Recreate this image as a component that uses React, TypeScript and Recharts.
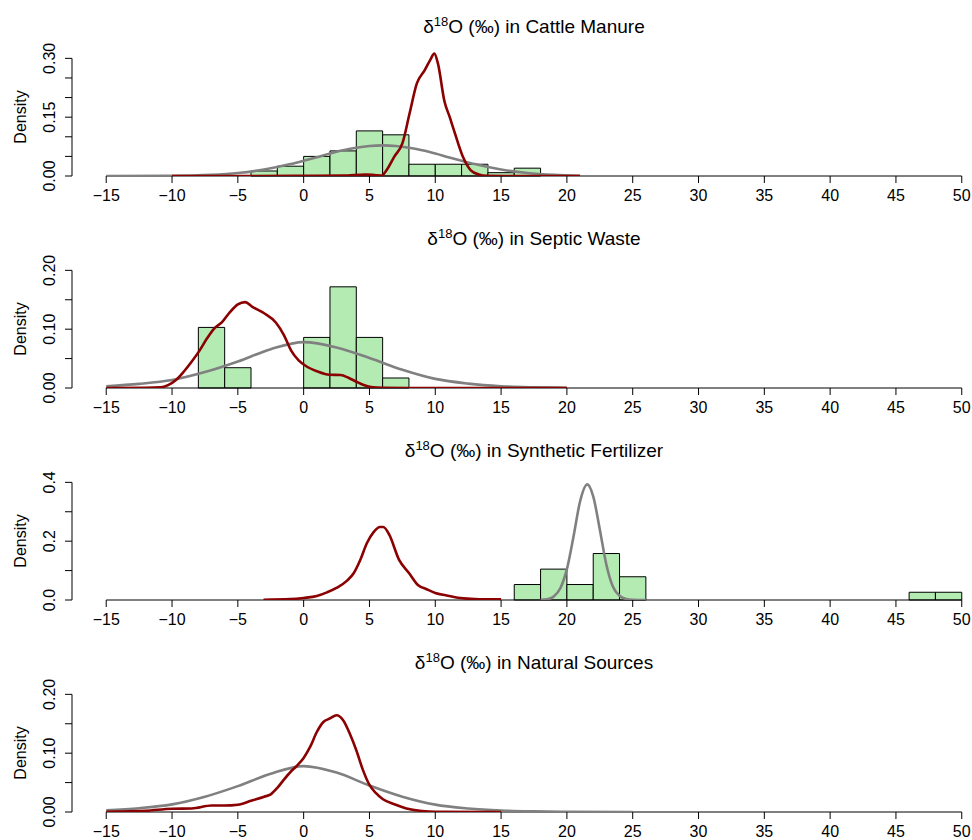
import React from 'react';
import { ComposedChart, XAxis, YAxis, Line, ReferenceArea, ReferenceLine } from 'recharts';

// ---------- data ----------
const X_TICKS = [-15, -10, -5, 0, 5, 10, 15, 20, 25, 30, 35, 40, 45, 50];

// Cattle manure
const cattleTitle = 'in Cattle Manure';
const cattleBins = [
  [-4, -2, 0.0128], [-2, 0, 0.025], [0, 2, 0.05], [2, 4, 0.064], [4, 6, 0.115], [6, 8, 0.105],
  [8, 10, 0.03], [10, 12, 0.03], [12, 14, 0.03], [14, 16, 0.0085], [16, 18, 0.02],
];
const cattleKde = [
  [-10, 0], [-5, 0], [0, 0.0005], [3, 0.001], [4.7, 0.004], [5.5, 0.002], [5.9, 0.001], [6.3, 0.015],
  [6.9, 0.05], [7.5, 0.083], [8.05, 0.16], [8.6, 0.236], [9.2, 0.27], [9.6, 0.295], [9.93, 0.312],
  [10.2, 0.287], [10.7, 0.19], [11.1, 0.15], [11.5, 0.108], [12.1, 0.049], [12.7, 0.0145], [13.3, 0.004],
  [13.9, 0.0005], [16, 0], [21, 0],
];
const cattleNorm = [
  [-15, 0.0001], [-10, 0.0006], [-7, 0.003], [-5, 0.0076], [-3, 0.0164], [-1, 0.0304], [0, 0.039],
  [1, 0.048], [2, 0.0573], [3, 0.0656], [4, 0.0722], [5, 0.0765], [6, 0.078], [7, 0.0765], [8, 0.0722],
  [9, 0.0656], [10, 0.0573], [11, 0.048], [12, 0.039], [13, 0.0304], [15, 0.0164], [17, 0.0076],
  [19, 0.0028], [21, 0.0006],
];
const cattleYTicks = [0, 0.05, 0.1, 0.15, 0.2, 0.25, 0.3];
const cattleYLabels = ['0.00', '', '', '0.15', '', '', '0.30'];

// Septic waste
const septicTitle = 'in Septic Waste';
const septicBins = [
  [-8, -6, 0.103], [-6, -4, 0.0345], [0, 2, 0.086], [2, 4, 0.172], [4, 6, 0.086], [6, 8, 0.017],
];
const septicKde = [
  [-15, 0], [-12, 0.0003], [-10.85, 0.001], [-10.3, 0.005], [-9.7, 0.0136], [-9.1, 0.028], [-8.5, 0.045],
  [-7.9, 0.064], [-7.35, 0.084], [-6.8, 0.101], [-6.2, 0.112], [-5.6, 0.129], [-5.0, 0.142], [-4.45, 0.146],
  [-3.9, 0.138], [-3.0, 0.127], [-2.1, 0.111], [-1.5, 0.09], [-0.96, 0.064], [-0.38, 0.047], [0.2, 0.037],
  [1.08, 0.028], [1.95, 0.0226], [2.8, 0.022], [3.4, 0.0175], [4.0, 0.0107], [4.56, 0.005], [5.1, 0.0017],
  [6, 0.0003], [8, 0], [20, 0],
];
const septicNorm = [
  [-15, 0.003], [-12.5, 0.007], [-10, 0.0136], [-7.5, 0.027], [-5, 0.045], [-2.5, 0.066], [0, 0.078],
  [2.5, 0.069], [5, 0.051], [7.5, 0.031], [10, 0.0155], [12.5, 0.0075], [15, 0.003], [17.5, 0.0012],
  [20, 0.0004],
];
const septicYTicks = [0, 0.05, 0.1, 0.15, 0.2];
const septicYLabels = ['0.00', '', '0.10', '', '0.20'];

// Synthetic fertilizer
const fertTitle = 'in Synthetic Fertilizer';
const fertBins = [
  [16, 18, 0.0526], [18, 20, 0.105], [20, 22, 0.0526], [22, 24, 0.158], [24, 26, 0.079],
  [46, 48, 0.0263], [48, 50, 0.0263],
];
const fertKde = [
  [-3.05, 0.001], [-1, 0.003], [0, 0.007], [1, 0.0136], [1.77, 0.026], [2.53, 0.042], [3.3, 0.066],
  [3.8, 0.091], [4.3, 0.136], [4.8, 0.193], [5.3, 0.23], [5.8, 0.248], [6.05, 0.248], [6.5, 0.222],
  [7.24, 0.1375], [8.0, 0.092], [8.73, 0.049], [9.3, 0.0375], [10.0, 0.024], [10.8, 0.016], [11.9, 0.0068],
  [13.0, 0.0034], [15.0, 0.002],
];
const fertNorm = [
  [18, 0.0005], [18.5, 0.0025], [19, 0.012], [19.5, 0.04], [20, 0.105], [20.5, 0.215], [21, 0.335],
  [21.55, 0.393], [22, 0.352], [22.5, 0.24], [23, 0.12], [23.5, 0.045], [24, 0.0145], [24.5, 0.0035],
  [25, 0.0008], [26, 0],
];
const fertYTicks = [0, 0.1, 0.2, 0.3, 0.4];
const fertYLabels = ['0.0', '', '0.2', '', '0.4'];

// Natural sources
const naturalTitle = 'in Natural Sources';
const naturalBins: number[][] = [];
const naturalKde = [
  [-15, 0.0003], [-12, 0.002], [-10, 0.0056], [-8.5, 0.006], [-7, 0.011], [-6, 0.011], [-5, 0.0124],
  [-4, 0.019], [-3, 0.026], [-2.5, 0.03], [-2, 0.041], [-1.5, 0.055], [-1, 0.068], [-0.5, 0.079],
  [0, 0.092], [0.5, 0.111], [1, 0.136], [1.5, 0.153], [2, 0.159], [2.5, 0.1645], [3, 0.156],
  [3.5, 0.1335], [4, 0.105], [4.5, 0.0716], [5, 0.046], [5.5, 0.032], [6, 0.022], [7, 0.0124],
  [8, 0.005], [9, 0.0017], [10, 0.0005], [15, 0],
];
const naturalNorm = [
  [-15, 0.003], [-12.5, 0.0065], [-10, 0.013], [-7.5, 0.026], [-5, 0.044], [-2.5, 0.065], [0, 0.078],
  [2.5, 0.067], [5, 0.045], [7.5, 0.026], [10, 0.0125], [12.5, 0.006], [15, 0.0025], [17.5, 0.001],
  [20, 0.0003], [25, 0],
];
const naturalYTicks = [0, 0.05, 0.1, 0.15, 0.2];
const naturalYLabels = ['0.00', '', '0.10', '', '0.20'];

// ---------- styling / layout ----------
const FONT = '"Liberation Sans", Arial, Helvetica, sans-serif';
const W = 972;
const PANEL_H = 212;
const MARGIN = { top: 50, right: 3, bottom: 6, left: 0 };
const PLOT_H = 126;
const TOP_TICK_PX = 117.65;
const X_DOMAIN: [number, number] = [-17.6, 50.55];
const GREEN = '#b3ebb3';
const RED = '#8b0000';
const GRAY = '#808080';
const AXIS_FS = 16;

const toPts = (arr: number[][]) => arr.map(([x, y]) => ({ x, y }));
const fmtX = (v: number) => (v < 0 ? '\u2212' + Math.abs(v) : String(v));

const XTick = (p: any) => {
  const { x, y, payload } = p;
  return (
    <text x={x} y={y + 16} textAnchor="middle" fontSize={AXIS_FS} fontFamily={FONT} fill="#000">
      {fmtX(payload.value)}
    </text>
  );
};

const makeYTick = (ticks: number[], labels: string[]) => (p: any) => {
  const { y, payload } = p;
  const i = ticks.findIndex((t) => Math.abs(t - payload.value) < 1e-9);
  const lab = i >= 0 ? labels[i] : '';
  if (!lab) return <g />;
  return (
    <text transform={`translate(55, ${y}) rotate(-90)`} textAnchor="middle" fontSize={AXIS_FS} fontFamily={FONT} fill="#000">
      {lab}
    </text>
  );
};

type PanelProps = {
  top: number;
  bins: number[][];
  kde: number[][];
  norm: number[][];
  yTicks: number[];
  yLabels: string[];
};

function Panel({ top, bins, kde, norm, yTicks, yLabels }: PanelProps) {
  const yTop = yTicks[yTicks.length - 1];
  const yMax = (yTop * PLOT_H) / TOP_TICK_PX;
  return (
    <div style={{ position: 'absolute', left: 0, top, width: W, height: PANEL_H }}>
      <ComposedChart width={W} height={PANEL_H} margin={MARGIN}>
        <XAxis
          type="number"
          dataKey="x"
          domain={X_DOMAIN}
          ticks={X_TICKS}
          interval={0}
          allowDataOverflow
          axisLine={false}
          tickLine={{ stroke: '#000', strokeWidth: 1 }}
          tickSize={7}
          height={30}
          tick={<XTick />}
        />
        <YAxis
          type="number"
          domain={[0, yMax]}
          ticks={yTicks}
          interval={0}
          allowDataOverflow
          axisLine={false}
          tickLine={{ stroke: '#000', strokeWidth: 1 }}
          tickSize={7}
          width={72}
          tick={makeYTick(yTicks, yLabels)}
        />
        {bins.map(([x1, x2, d], i) => (
          <ReferenceArea
            key={'b' + i}
            x1={x1}
            x2={x2}
            y1={0}
            y2={d}
            fill={GREEN}
            fillOpacity={1}
            stroke="#000"
            strokeWidth={1}
            ifOverflow="visible"
          />
        ))}
        <ReferenceLine
          segment={[{ x: X_TICKS[0], y: 0 }, { x: X_TICKS[X_TICKS.length - 1], y: 0 }]}
          stroke="#000"
          strokeWidth={1}
          ifOverflow="visible"
        />
        <ReferenceLine
          segment={[{ x: X_DOMAIN[0], y: 0 }, { x: X_DOMAIN[0], y: yTop }]}
          stroke="#000"
          strokeWidth={1}
          ifOverflow="visible"
        />
        <Line
          data={toPts(norm)}
          dataKey="y"
          type="monotone"
          stroke={GRAY}
          strokeWidth={2.6}
          dot={false}
          activeDot={false}
          isAnimationActive={false}
        />
        <Line
          data={toPts(kde)}
          dataKey="y"
          type="monotone"
          stroke={RED}
          strokeWidth={2.6}
          dot={false}
          activeDot={false}
          isAnimationActive={false}
        />
      </ComposedChart>
    </div>
  );
}

const panels = [
  { title: cattleTitle, bins: cattleBins, kde: cattleKde, norm: cattleNorm, yTicks: cattleYTicks, yLabels: cattleYLabels },
  { title: septicTitle, bins: septicBins, kde: septicKde, norm: septicNorm, yTicks: septicYTicks, yLabels: septicYLabels },
  { title: fertTitle, bins: fertBins, kde: fertKde, norm: fertNorm, yTicks: fertYTicks, yLabels: fertYLabels },
  { title: naturalTitle, bins: naturalBins, kde: naturalKde, norm: naturalNorm, yTicks: naturalYTicks, yLabels: naturalYLabels },
];

export default function App() {
  return (
    <div style={{ position: 'absolute', left: 0, top: 0, width: W, height: 840, overflow: 'hidden', background: '#fff' }}>
      {panels.map((p, i) => (
        <Panel key={i} top={i * PANEL_H} bins={p.bins} kde={p.kde} norm={p.norm} yTicks={p.yTicks} yLabels={p.yLabels} />
      ))}
      <svg width={W} height={840} style={{ position: 'absolute', left: 0, top: 0, pointerEvents: 'none' }}>
        {panels.map((p, i) => (
          <g key={i}>
            <text x={534} y={i * PANEL_H + 33} textAnchor="middle" fontSize={19} fontFamily={FONT} fill="#000">
              δ<tspan dy={-7.5} fontSize={13}>18</tspan>
              <tspan dy={7.5}>O (‰) {p.title}</tspan>
            </text>
            <text
              transform={`translate(26, ${i * PANEL_H + 117}) rotate(-90)`}
              textAnchor="middle"
              fontSize={AXIS_FS}
              fontFamily={FONT}
              fill="#000"
            >
              Density
            </text>
          </g>
        ))}
      </svg>
    </div>
  );
}
